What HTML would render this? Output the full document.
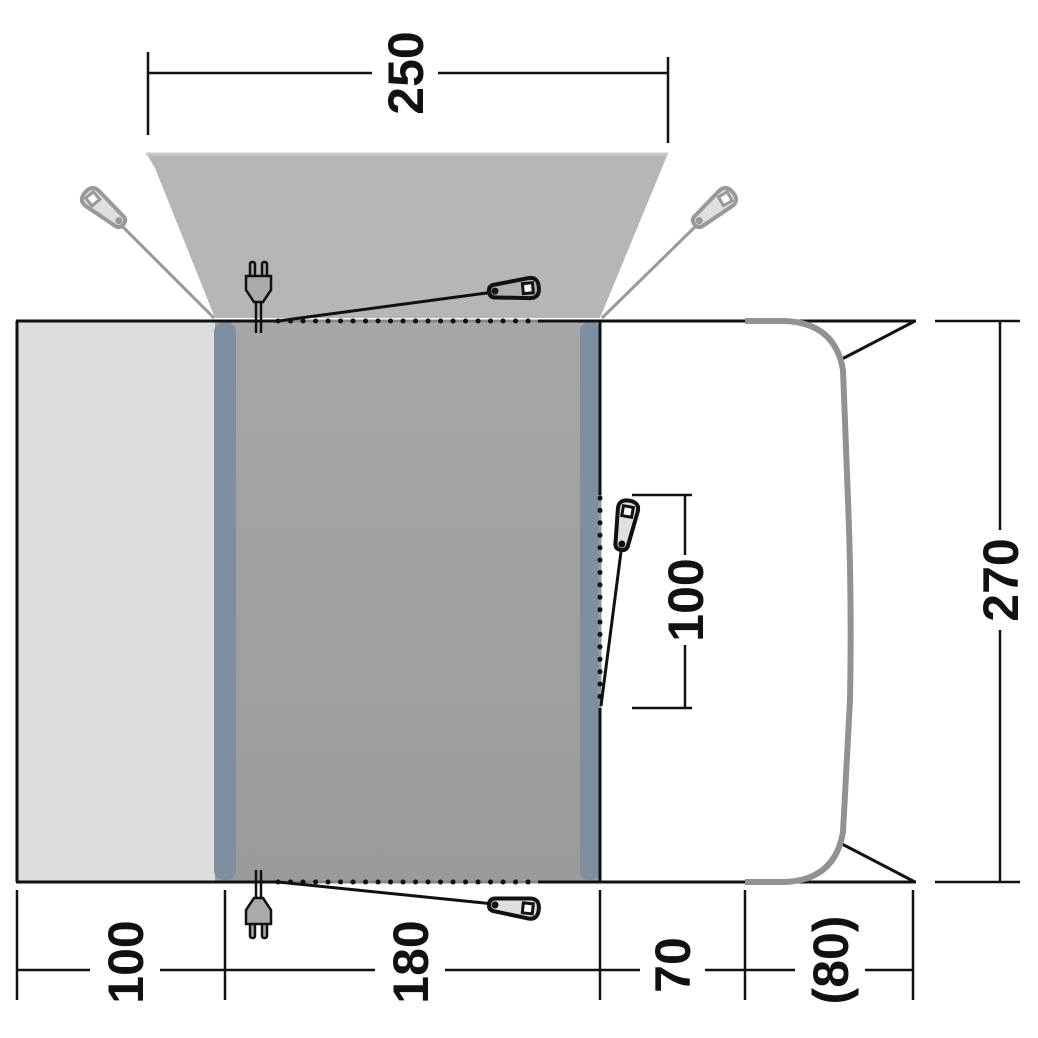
<!DOCTYPE html>
<html><head><style>html,body{margin:0;padding:0;background:#fff}svg{display:block}</style></head><body>
<svg width="1038" height="1038" viewBox="0 0 1038 1038" xmlns="http://www.w3.org/2000/svg">
<defs>
<linearGradient id="mg" x1="0" y1="0" x2="0" y2="1"><stop offset="0" stop-color="#a6a7a6"/><stop offset="1" stop-color="#9a9b9a"/></linearGradient>
<g id="peg"><path d="M0,-6.5 L33,-10 Q43,-11 43,0 Q43,11 33,10 L0,6.5 Q-7,6.5 -7,0 Q-7,-6.5 0,-6.5Z"/></g>
</defs>
<polygon points="146,153 668,153 662,168 600,318 215,318 155,168" fill="#b5b7b6"/>
<line x1="146" y1="154" x2="668" y2="154" stroke="#c9cbca" stroke-width="3"/>
<line x1="118" y1="222" x2="214" y2="318" stroke="#999" stroke-width="3"/>
<line x1="700" y1="222" x2="602" y2="318" stroke="#999" stroke-width="3"/>
<g transform="translate(118,220) rotate(-140)"><use href="#peg" fill="#dedfde" stroke="#999" stroke-width="4"/><circle cx="-1" cy="0" r="3.5" fill="#999"/><rect x="28" y="-5" width="10" height="10" fill="#fff" stroke="#999" stroke-width="3" transform="rotate(10 33 0)"/></g>
<g transform="translate(700,220) rotate(-40)"><use href="#peg" fill="#dedfde" stroke="#999" stroke-width="4"/><circle cx="-1" cy="0" r="3.5" fill="#999"/><rect x="28" y="-5" width="10" height="10" fill="#fff" stroke="#999" stroke-width="3" transform="rotate(10 33 0)"/></g>
<rect x="17" y="321" width="198" height="561" fill="#dcdedd"/>
<rect x="215" y="321" width="385" height="561" fill="url(#mg)"/>
<rect x="214" y="322" width="22" height="558" rx="10" fill="#7e8fa1"/>
<rect x="580" y="322" width="20" height="558" rx="9" fill="#7e8fa1"/>
<line x1="17" y1="321" x2="17" y2="882" stroke="#111" stroke-width="3"/>
<line x1="600" y1="321" x2="600" y2="495" stroke="#111" stroke-width="3"/>
<line x1="600" y1="708" x2="600" y2="882" stroke="#111" stroke-width="3"/>
<line x1="600" y1="495" x2="600" y2="708" stroke="#999" stroke-width="3"/>
<line x1="600" y1="498" x2="600" y2="706" stroke="#111" stroke-width="5" stroke-dasharray="0.1 12.3" stroke-linecap="round"/>
<line x1="16" y1="321" x2="278" y2="321" stroke="#111" stroke-width="3"/>
<line x1="538" y1="321" x2="916" y2="321" stroke="#111" stroke-width="3"/>
<line x1="278" y1="321" x2="538" y2="321" stroke="#888" stroke-width="3"/>
<line x1="278" y1="321" x2="538" y2="321" stroke="#111" stroke-width="5" stroke-dasharray="0.1 12.4" stroke-linecap="round"/>
<line x1="16" y1="882" x2="278" y2="882" stroke="#111" stroke-width="3"/>
<line x1="538" y1="882" x2="916" y2="882" stroke="#111" stroke-width="3"/>
<line x1="278" y1="882" x2="538" y2="882" stroke="#888" stroke-width="3"/>
<line x1="278" y1="882" x2="538" y2="882" stroke="#111" stroke-width="5" stroke-dasharray="0.1 12.4" stroke-linecap="round"/>
<polyline points="915,321 842,359" fill="none" stroke="#111" stroke-width="3"/>
<polyline points="915,882 842,844" fill="none" stroke="#111" stroke-width="3"/>
<path d="M745,321 L785,321 Q835,323 843,370 L848,500 Q852,600 850,700 L843,832 Q835,880 785,882 L745,882" fill="none" stroke="#929292" stroke-width="6"/>
<line x1="278" y1="321" x2="494" y2="292" stroke="#111" stroke-width="3"/>
<line x1="278" y1="882" x2="494" y2="904" stroke="#111" stroke-width="3"/>
<line x1="601" y1="706" x2="622" y2="544" stroke="#111" stroke-width="3"/>
<g transform="translate(496,291) rotate(-5)"><use href="#peg" fill="#b0b2b1" stroke="#111" stroke-width="4"/><circle cx="-1" cy="0" r="3.5" fill="#111"/><rect x="27" y="-5" width="10" height="10" fill="#fff" stroke="#111" stroke-width="3"/></g>
<g transform="translate(496,905) rotate(6)"><use href="#peg" fill="#dedfde" stroke="#111" stroke-width="4"/><circle cx="-1" cy="0" r="3.5" fill="#111"/><rect x="27" y="-5" width="10" height="10" fill="#fff" stroke="#111" stroke-width="3"/></g>
<g transform="translate(622,543) rotate(-80)"><use href="#peg" fill="#dedfde" stroke="#111" stroke-width="4"/><circle cx="-1" cy="0" r="3.5" fill="#111"/><rect x="27" y="-5" width="10" height="10" fill="#fff" stroke="#111" stroke-width="3"/></g>
<g stroke="#111" stroke-width="2.5" fill="#aaa">
<line x1="256" y1="300" x2="256" y2="333"/><line x1="261" y1="300" x2="261" y2="333"/>
<rect x="250" y="262" width="5" height="16" rx="2"/><rect x="262" y="262" width="5" height="16" rx="2"/>
<path d="M246,276 L271,276 L271,290 L263,302 L254,302 L246,290Z"/>
<line x1="256" y1="870" x2="256" y2="903"/><line x1="261" y1="870" x2="261" y2="903"/>
<rect x="250" y="922" width="5" height="16" rx="2"/><rect x="262" y="922" width="5" height="16" rx="2"/>
<path d="M246,924 L271,924 L271,910 L263,898 L254,898 L246,910Z"/>
</g>
<g stroke="#111" stroke-width="2.5">
<line x1="148" y1="73" x2="372" y2="73"/><line x1="438" y1="73" x2="668" y2="73"/>
<line x1="148" y1="52" x2="148" y2="135"/><line x1="668" y1="57" x2="668" y2="143"/>
<line x1="17" y1="970" x2="90" y2="970"/><line x1="160" y1="970" x2="375" y2="970"/><line x1="445" y1="970" x2="640" y2="970"/><line x1="705" y1="970" x2="795" y2="970"/><line x1="865" y1="970" x2="913" y2="970"/>
<line x1="17" y1="890" x2="17" y2="1000"/><line x1="225" y1="890" x2="225" y2="1000"/><line x1="600" y1="890" x2="600" y2="1000"/><line x1="745" y1="890" x2="745" y2="1000"/><line x1="913" y1="890" x2="913" y2="1000"/>
<line x1="1000" y1="321" x2="1000" y2="530"/><line x1="1000" y1="630" x2="1000" y2="882"/>
<line x1="935" y1="321" x2="1020" y2="321"/><line x1="935" y1="882" x2="1020" y2="882"/>
<line x1="685" y1="495" x2="685" y2="555"/><line x1="685" y1="645" x2="685" y2="708"/>
<line x1="632" y1="495" x2="692" y2="495"/><line x1="632" y1="708" x2="692" y2="708"/>
</g>
<g font-family="Liberation Sans, sans-serif" font-weight="bold" font-size="50" fill="#111" text-anchor="middle">
<text transform="translate(423,73) rotate(-90)">250</text>
<text transform="translate(1018,580) rotate(-90)">270</text>
<text transform="translate(703,600) rotate(-90)">100</text>
<text transform="translate(143,962) rotate(-90)">100</text>
<text transform="translate(428,962) rotate(-90)">180</text>
<text transform="translate(690,965) rotate(-90)">70</text>
<text transform="translate(848,960) rotate(-90)">(80)</text>
</g>
</svg>
</body></html>
